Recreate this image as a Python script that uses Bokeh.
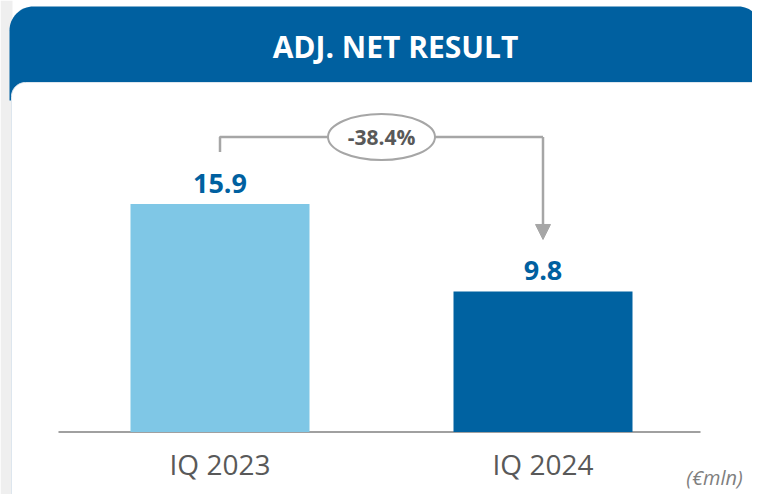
import math
from bokeh.plotting import figure
from bokeh.models import Range1d, Arrow, NormalHead
from bokeh.core.properties import value
from bokeh.embed import file_html
from bokeh.resources import INLINE

# ---- data ----
title = "ADJ. NET RESULT"
categories = ["IQ 2023", "IQ 2024"]
values = [15.9, 9.8]
value_labels = ["15.9", "9.8"]
change_label = "-38.4%"
unit_label = "(€mln)"

# ---- styles ----
bar_colors = ["#7fc7e6", "#0062a1"]
blue = "#0060a0"
grey_line = "#a6a6a6"
FONT = value("Open Sans")

# pixel helpers for decorations
W, H = 752, 494
PX_PER_UNIT = 228 / 15.9
BASE_Y = 431.5
X0, DX = 219.5, 323.0


def X(px):
    return (px - X0) / DX


def Y(py):
    return (BASE_Y - py) / PX_PER_UNIT


def rrect(x0, y0, x1, y1, r_tl=0, r_tr=0, r_br=0, r_bl=0, n=16):
    pts = []

    def arc(cx, cy, r, a0, a1):
        for i in range(n + 1):
            a = a0 + (a1 - a0) * i / n
            pts.append((cx + r * math.cos(a), cy + r * math.sin(a)))

    arc(x0 + r_tl, y0 + r_tl, r_tl, math.pi, 1.5 * math.pi)
    arc(x1 - r_tr, y0 + r_tr, r_tr, 1.5 * math.pi, 2 * math.pi)
    arc(x1 - r_br, y1 - r_br, r_br, 0, 0.5 * math.pi)
    arc(x0 + r_bl, y1 - r_bl, r_bl, 0.5 * math.pi, math.pi)
    return [X(a) for a, b in pts], [Y(b) for a, b in pts]


p = figure(width=W, height=H,
           x_range=Range1d(X(0), X(W)), y_range=Range1d(Y(H), Y(0)),
           output_backend="svg", toolbar_location=None,
           x_axis_location=None, y_axis_location=None,
           min_border=0, outline_line_color=None,
           background_fill_color="white", border_fill_color="white")
p.grid.visible = False

# left grey strip
xs, ys = rrect(0, 0, 12, 520)
p.patch(xs, ys, fill_color="#efefef", line_color=None)

# header
xs, ys = rrect(9, 6, 760, 100, r_tl=24, r_tr=22)
p.patch(xs, ys, fill_color="#0060a0", line_color=None)
p.text(x=[X(395)], y=[Y(46)], text=[title], text_font=FONT, text_font_style="bold",
       text_font_size="30px", text_color="white", text_align="center", text_baseline="middle")

# white panel
xs, ys = rrect(11, 82, 800, 540, r_tl=14)
p.patch(xs, ys, fill_color="white", line_color="#dde6ee", line_width=1)

idx = list(range(len(values)))

# baseline
p.segment(x0=[X(58)], y0=[0], x1=[X(700)], y1=[0], line_color="#808080", line_width=1.6)

# bars
p.vbar(x=idx, top=values, bottom=0, width=179 / DX, fill_color=bar_colors, line_color=None)

# value labels
p.text(x=idx, y=values, text=value_labels, text_font=FONT, text_font_style="bold",
       text_font_size="27px", text_color=blue, text_align="center",
       text_baseline="alphabetic", y_offset=-21)

# category labels
p.text(x=idx, y=[0] * len(idx), text=categories, text_font=FONT,
       text_font_size="28px", text_color="#595959", text_align="center",
       text_baseline="alphabetic", y_offset=32)

# connector
off_start = 52 / PX_PER_UNIT
off_level = 67 / PX_PER_UNIT
y_level = max(values) + off_level
p.line(x=[idx[0], idx[0], idx[1]], y=[values[0] + off_start, y_level, y_level],
       line_color=grey_line, line_width=2.5)
p.add_layout(Arrow(end=NormalHead(size=15, fill_color=grey_line, line_color=grey_line),
                   x_start=idx[1], y_start=y_level, x_end=idx[1], y_end=values[1] + off_start,
                   line_color=grey_line, line_width=2.5))

mid = (idx[0] + idx[1]) / 2
p.ellipse(x=[mid], y=[y_level], width=107, height=46, width_units="screen",
          height_units="screen", fill_color="white", line_color=grey_line, line_width=2)
p.text(x=[mid], y=[y_level], text=[change_label], text_font=FONT, text_font_style="bold",
       text_font_size="21px", text_color="#595959", text_align="center", text_baseline="middle")

# unit label
p.text(x=[X(714)], y=[Y(477)], text=[unit_label], text_font=FONT, text_font_style="italic",
       text_font_size="20px", text_color="#7f7f7f", text_align="center",
       text_baseline="middle")

open("out.html", "w").write(file_html(p, INLINE))
